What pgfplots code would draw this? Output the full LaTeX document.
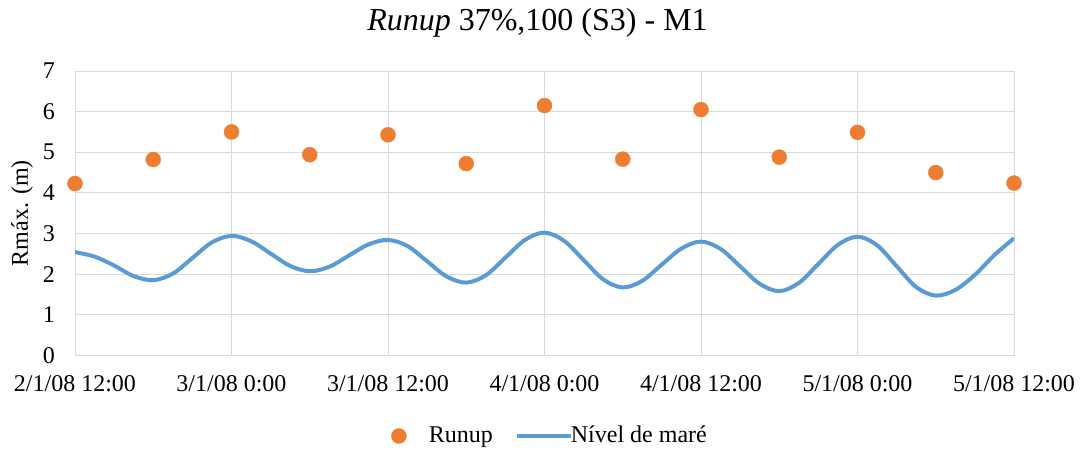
\documentclass[border=0pt]{standalone}
\usepackage{fontspec}
\setmainfont{Liberation Serif}
\usepackage{pgfplots}
\pgfplotsset{compat=1.18}
\definecolor{runup}{HTML}{ED7D31}
\definecolor{mare}{HTML}{5B9BD5}
\definecolor{gridc}{HTML}{D9D9D9}
\pgfplotsset{
  longline/.style={legend image code/.code={\path[draw=none] (0bp,0bp) -- (52bp,0bp);\draw[##1, overlay] (0bp,0bp) -- (54bp,0bp);}},
  dotimg/.style={legend image code/.code={\path[draw=none] (0bp,0bp) -- (32bp,0bp);\path[##1, draw=none] plot coordinates {(4bp,0bp)};}},
}
\begin{document}
\fontsize{24bp}{28bp}\selectfont
\begin{tikzpicture}[font=\fontsize{24bp}{28bp}\selectfont]
\useasboundingbox (-75bp,-94.7bp) rectangle (1008bp,355.3bp);
\begin{axis}[
  at={(0,0)}, anchor=south west,
  scale only axis, width=939bp, height=284.3bp,
  xmin=0, xmax=72, ymin=0, ymax=7,
  xtick={0,12,24,36,48,60,72},
  xticklabels={2/1/08 12:00,3/1/08 0:00,3/1/08 12:00,4/1/08 0:00,4/1/08 12:00,5/1/08 0:00,5/1/08 12:00},
  ytick={0,1,2,3,4,5,6,7},
  /pgf/number format/assume math mode=true,
  grid=major,
  major grid style={draw=gridc, line width=1bp},
  axis line style={draw=gridc, line width=1bp},
  tick style={draw=none},
  xticklabel style={yshift=-12bp},
  yticklabel style={xshift=-12bp},
  ylabel={Rmáx. (m)},
  every axis y label/.style={at={(axis description cs:0,0.5)}, rotate=90, anchor=center, yshift=53bp},
  title={\textit{Runup} 37\%,100 (S3) - M1},
  title style={at={(axis description cs:0.5,1)}, anchor=center, yshift=42bp, xshift=-7bp, font=\fontsize{32bp}{36bp}\selectfont},
  legend style={draw=none, fill=none, at={(0.506,0)}, anchor=center, yshift=-80.7bp,
    legend columns=2, /tikz/every even column/.append style={column sep=22bp},
    font=\fontsize{24bp}{28bp}\selectfont},
]
\addplot[only marks, mark=*, mark size=7.5bp, color=runup, mark options={draw=runup, fill=runup}, dotimg] coordinates {
(0,4.23) (6,4.82) (12,5.50) (18,4.94) (24,5.43) (30,4.72) (36,6.15)
(42,4.83) (48,6.05) (54,4.88) (60,5.49) (66,4.50) (72,4.24)
};
\addlegendentry{Runup}
\addplot[color=mare, line width=4bp, smooth, tension=0.55, longline] coordinates {
(0,2.54) (1.5,2.43) (3,2.21) (4.5,1.95) (6,1.85) (7.5,2.01) (9,2.395) (10.5,2.78)
(12,2.94) (13.5,2.81) (15,2.505) (16.5,2.20)
(18,2.07) (19.5,2.18) (21,2.455) (22.5,2.73)
(24,2.84) (25.5,2.69) (27,2.315) (28.5,1.94)
(30,1.79) (31.5,1.97) (33,2.405) (34.5,2.84)
(36,3.02) (37.5,2.82) (39,2.345) (40.5,1.87)
(42,1.67) (43.5,1.835) (45,2.235) (46.5,2.63)
(48,2.80) (49.5,2.62) (51,2.19) (52.5,1.76)
(54,1.58) (55.5,1.78) (57,2.25) (58.5,2.72)
(60,2.92) (61.5,2.71) (63,2.195) (64.5,1.68)
(66,1.47) (67.5,1.61) (69,1.98) (70.5,2.47) (72,2.88)
};
\addlegendentry{Nível de maré}
\end{axis}
\end{tikzpicture}
\end{document}
